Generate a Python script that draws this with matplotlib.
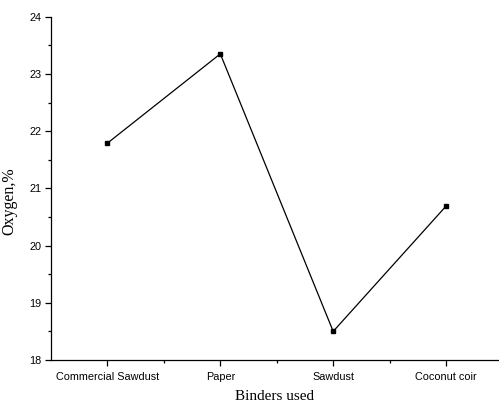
import numpy as np
import matplotlib
matplotlib.use("Agg")
import matplotlib.pyplot as plt
from matplotlib.ticker import MultipleLocator, FixedLocator

# データ
binders = ["Commercial Sawdust", "Paper", "Sawdust", "Coconut coir"]
oxygen = [21.79, 23.35, 18.50, 20.69]
y_ticks = [18, 19, 20, 21, 22, 23, 24]

fig = plt.figure(figsize=(4.99, 4.07), dpi=100)
ax = fig.add_axes([0.1022, 0.1155, 0.8958, 0.8435])

x = np.arange(1, len(binders) + 1)
ax.plot(x, oxygen, color="black", linewidth=0.9, marker="s", markersize=3.5,
        markerfacecolor="black", markeredgecolor="black")

ax.set_xlim(0.5, 4.46)
ax.set_ylim(18, 24)
ax.set_xticks(x)
ax.set_xticklabels(binders, fontfamily="Liberation Sans", fontsize=7.8)
ax.xaxis.set_minor_locator(FixedLocator([1.5, 2.5, 3.5]))
ax.set_yticks(y_ticks)
ax.set_yticklabels([str(v) for v in y_ticks], fontfamily="Liberation Sans", fontsize=7.8)
ax.yaxis.set_minor_locator(MultipleLocator(0.5))

ax.tick_params(which="major", direction="out", length=4, width=0.9, pad=3)
ax.tick_params(axis="x", which="major", pad=5)
ax.tick_params(which="minor", direction="out", length=2.5, width=0.9)

for s in ["top", "right"]:
    ax.spines[s].set_visible(False)
for s in ["left", "bottom"]:
    ax.spines[s].set_linewidth(0.9)

ax.set_xlabel("Binders used", fontfamily="Liberation Serif", fontsize=11)
ax.set_ylabel("Oxygen,%", fontfamily="Liberation Serif", fontsize=11.5)
ax.xaxis.set_label_coords(0.5, -0.088)
ax.yaxis.set_label_coords(-0.075, 0.463)

fig.savefig("out.png", dpi=100)
